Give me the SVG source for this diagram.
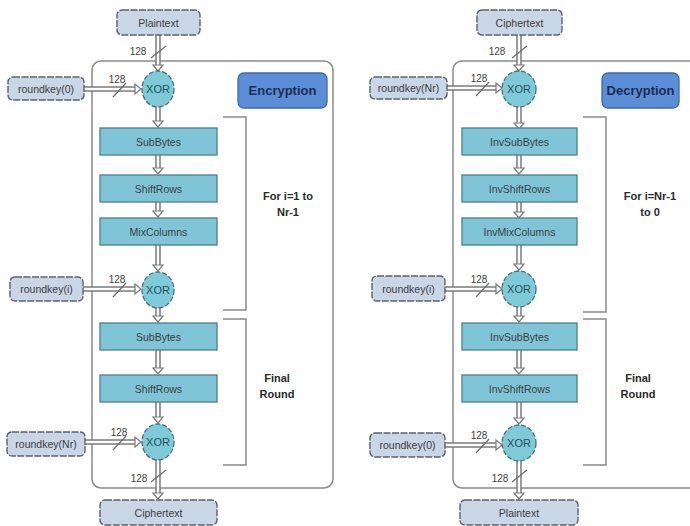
<svg xmlns="http://www.w3.org/2000/svg" width="690" height="526" viewBox="0 0 690 526">
<style>
.bg{fill:#ffffff}
.io{fill:#c9d6e6;stroke:#5b6170;stroke-width:1.4;stroke-dasharray:7 1.5}
.op{fill:#7fc5d7;stroke:#4d7e8c;stroke-width:1.3}
.xor{fill:#7ecad8;stroke:#4a6f7c;stroke-width:1.3;stroke-dasharray:5 2}
.mode{fill:#5b8ed6;stroke:#3c69ad;stroke-width:1.3}
.cont{fill:none;stroke:#8a8a8a;stroke-width:1.5}
.brk{fill:none;stroke:#8a8a8a;stroke-width:1.5}
.t{font-family:"Liberation Sans",Arial,sans-serif;font-size:10.5px;fill:#3d3d3d;text-anchor:middle;dominant-baseline:central}
.tx{font-family:"Liberation Sans",Arial,sans-serif;font-size:11px;fill:#284e5c;text-anchor:middle;dominant-baseline:central}
.tm{font-family:"Liberation Sans",Arial,sans-serif;font-size:13px;font-weight:bold;fill:#1b2c55;text-anchor:middle;dominant-baseline:central}
.tb{font-family:"Liberation Sans",Arial,sans-serif;font-size:11px;font-weight:bold;fill:#2a2a2a;text-anchor:middle;dominant-baseline:central}
.tn{font-family:"Liberation Sans",Arial,sans-serif;font-size:10px;fill:#3d3d3d;text-anchor:middle;dominant-baseline:central}
.ao{stroke:#7a7a7a;stroke-width:5.5;fill:none}
.ai{stroke:#ffffff;stroke-width:2.5;fill:none}
.ah{fill:#ffffff;stroke:#7a7a7a;stroke-width:1.2}
.sl{stroke:#6a6a6a;stroke-width:1.2}
</style>
<rect class="bg" x="0" y="0" width="690" height="526"/>

<!-- containers and brackets -->
<g id="enc-frame">
<rect class="cont" x="92" y="61" width="241" height="427" rx="9"/>
<path class="brk" d="M223,117 H246 V310 H223"/>
<path class="brk" d="M223,319 H246 V465 H223"/>
</g>
<g id="dec-frame">
<rect class="cont" x="453" y="61" width="250" height="427" rx="9"/>
<path class="brk" d="M583,117 H606 V312 H583"/>
<path class="brk" d="M583,319 H606 V465 H583"/>
</g>

<!-- connectors -->
<g id="connectors">
<!-- encryption vertical -->
<path class="ao" d="M158,35 V66"/><path class="ai" d="M158,35 V66"/><polygon class="ah" points="153,65 163,65 158,71"/>
<path class="ao" d="M158,107 V122"/><path class="ai" d="M158,107 V122"/><polygon class="ah" points="153,121 163,121 158,127"/>
<path class="ao" d="M158,155 V169"/><path class="ai" d="M158,155 V169"/><polygon class="ah" points="153,168 163,168 158,174"/>
<path class="ao" d="M158,202 V212"/><path class="ai" d="M158,202 V212"/><polygon class="ah" points="153,211 163,211 158,217"/>
<path class="ao" d="M158,245 V266"/><path class="ai" d="M158,245 V266"/><polygon class="ah" points="153,265 163,265 158,271"/>
<path class="ao" d="M158,308 V317"/><path class="ai" d="M158,308 V317"/><polygon class="ah" points="153,316 163,316 158,322"/>
<path class="ao" d="M158,350 V369"/><path class="ai" d="M158,350 V369"/><polygon class="ah" points="153,368 163,368 158,374"/>
<path class="ao" d="M158,402 V418"/><path class="ai" d="M158,402 V418"/><polygon class="ah" points="153,417 163,417 158,423"/>
<path class="ao" d="M158,460 V494"/><path class="ai" d="M158,460 V494"/><polygon class="ah" points="153,493 163,493 158,499"/>
<!-- encryption horizontal -->
<path class="ao" d="M84,89 H136"/><path class="ai" d="M84,89 H136"/><polygon class="ah" points="135,84 135,94 141,89"/>
<path class="ao" d="M83,289 H136"/><path class="ai" d="M83,289 H136"/><polygon class="ah" points="135,284 135,294 141,289"/>
<path class="ao" d="M85,442 H136"/><path class="ai" d="M85,442 H136"/><polygon class="ah" points="135,437 135,447 141,442"/>
<!-- decryption vertical -->
<path class="ao" d="M519,35 V66"/><path class="ai" d="M519,35 V66"/><polygon class="ah" points="514,65 524,65 519,71"/>
<path class="ao" d="M519,107 V124"/><path class="ai" d="M519,107 V124"/><polygon class="ah" points="514,123 524,123 519,129"/>
<path class="ao" d="M519,155 V169"/><path class="ai" d="M519,155 V169"/><polygon class="ah" points="514,168 524,168 519,174"/>
<path class="ao" d="M519,202 V213"/><path class="ai" d="M519,202 V213"/><polygon class="ah" points="514,212 524,212 519,218"/>
<path class="ao" d="M519,245 V265"/><path class="ai" d="M519,245 V265"/><polygon class="ah" points="514,264 524,264 519,270"/>
<path class="ao" d="M519,307 V317"/><path class="ai" d="M519,307 V317"/><polygon class="ah" points="514,316 524,316 519,322"/>
<path class="ao" d="M519,350 V369"/><path class="ai" d="M519,350 V369"/><polygon class="ah" points="514,368 524,368 519,374"/>
<path class="ao" d="M519,402 V419"/><path class="ai" d="M519,402 V419"/><polygon class="ah" points="514,418 524,418 519,424"/>
<path class="ao" d="M519,461 V494"/><path class="ai" d="M519,461 V494"/><polygon class="ah" points="514,493 524,493 519,499"/>
<!-- decryption horizontal -->
<path class="ao" d="M447,88 H497"/><path class="ai" d="M447,88 H497"/><polygon class="ah" points="496,83 496,93 502,88"/>
<path class="ao" d="M445,289 H497"/><path class="ai" d="M445,289 H497"/><polygon class="ah" points="496,284 496,294 502,289"/>
<path class="ao" d="M445,445 H497"/><path class="ai" d="M445,445 H497"/><polygon class="ah" points="496,440 496,450 502,445"/>
<!-- bus width marks -->
<line class="sl" x1="151" y1="58" x2="166" y2="46"/><text class="tn" x="138" y="51">128</text>
<line class="sl" x1="113" y1="97" x2="126" y2="83"/><text class="tn" x="117" y="79">128</text>
<line class="sl" x1="113" y1="297" x2="126" y2="283"/><text class="tn" x="117" y="279">128</text>
<line class="sl" x1="113" y1="450" x2="126" y2="436"/><text class="tn" x="119" y="432">128</text>
<line class="sl" x1="151" y1="482" x2="166" y2="470"/><text class="tn" x="139" y="478">128</text>
<line class="sl" x1="512" y1="58" x2="527" y2="46"/><text class="tn" x="497" y="51">128</text>
<line class="sl" x1="476" y1="96" x2="489" y2="82"/><text class="tn" x="479" y="78">128</text>
<line class="sl" x1="476" y1="297" x2="489" y2="283"/><text class="tn" x="479" y="279">128</text>
<line class="sl" x1="476" y1="453" x2="489" y2="439"/><text class="tn" x="479" y="435">128</text>
<line class="sl" x1="512" y1="482" x2="527" y2="470"/><text class="tn" x="500" y="478">128</text>
</g>

<!-- encryption nodes -->
<g id="enc-plaintext"><rect class="io" x="117" y="10" width="83" height="25" rx="5"/><text class="t" x="158.5" y="22.5">Plaintext</text></g>
<g id="enc-rk0"><rect class="io" x="8" y="77" width="76" height="23" rx="5"/><text class="t" x="46" y="88.5">roundkey(0)</text></g>
<g id="enc-xor1"><ellipse class="xor" cx="158" cy="89" rx="16" ry="18"/><text class="tx" x="158" y="89">XOR</text></g>
<g id="enc-label"><rect class="mode" x="238" y="73" width="89" height="35" rx="6"/><text class="tm" x="282.5" y="90.5">Encryption</text></g>
<g id="enc-sub1"><rect class="op" x="100" y="128" width="117" height="27"/><text class="t" x="158.5" y="141.5">SubBytes</text></g>
<g id="enc-shift1"><rect class="op" x="100" y="175" width="117" height="27"/><text class="t" x="158.5" y="188.5">ShiftRows</text></g>
<g id="enc-mix"><rect class="op" x="100" y="218" width="117" height="27"/><text class="t" x="158.5" y="231.5">MixColumns</text></g>
<g id="enc-loop"><text class="tb" x="288" y="196">For i=1 to</text><text class="tb" x="288" y="212">Nr-1</text></g>
<g id="enc-rki"><rect class="io" x="10" y="277" width="73" height="24" rx="5"/><text class="t" x="46.5" y="289">roundkey(i)</text></g>
<g id="enc-xor2"><ellipse class="xor" cx="158" cy="290" rx="16" ry="18"/><text class="tx" x="158" y="290">XOR</text></g>
<g id="enc-sub2"><rect class="op" x="100" y="323" width="117" height="27"/><text class="t" x="158.5" y="336.5">SubBytes</text></g>
<g id="enc-shift2"><rect class="op" x="100" y="375" width="117" height="27"/><text class="t" x="158.5" y="388.5">ShiftRows</text></g>
<g id="enc-final"><text class="tb" x="277" y="378">Final</text><text class="tb" x="277" y="394">Round</text></g>
<g id="enc-rknr"><rect class="io" x="7" y="432" width="78" height="24" rx="5"/><text class="t" x="46" y="444">roundkey(Nr)</text></g>
<g id="enc-xor3"><ellipse class="xor" cx="158" cy="442" rx="16" ry="18"/><text class="tx" x="158" y="442">XOR</text></g>
<g id="enc-ciphertext"><rect class="io" x="100" y="500" width="117" height="25" rx="5"/><text class="t" x="158.5" y="512.5">Ciphertext</text></g>

<!-- decryption nodes -->
<g id="dec-ciphertext"><rect class="io" x="477" y="10" width="85" height="25" rx="5"/><text class="t" x="519.5" y="22.5">Ciphertext</text></g>
<g id="dec-rknr"><rect class="io" x="370" y="77" width="77" height="22" rx="5"/><text class="t" x="408.5" y="88">roundkey(Nr)</text></g>
<g id="dec-xor1"><ellipse class="xor" cx="519" cy="89" rx="17" ry="18"/><text class="tx" x="519" y="89">XOR</text></g>
<g id="dec-label"><rect class="mode" x="602" y="73" width="77" height="35" rx="6"/><text class="tm" x="640.5" y="90.5">Decryption</text></g>
<g id="dec-sub1"><rect class="op" x="462" y="128" width="115" height="27"/><text class="t" x="519.5" y="141.5">InvSubBytes</text></g>
<g id="dec-shift1"><rect class="op" x="462" y="175" width="115" height="27"/><text class="t" x="519.5" y="188.5">InvShiftRows</text></g>
<g id="dec-mix"><rect class="op" x="462" y="218" width="115" height="27"/><text class="t" x="519.5" y="231.5">InvMixColumns</text></g>
<g id="dec-loop"><text class="tb" x="650" y="196">For i=Nr-1</text><text class="tb" x="650" y="212">to 0</text></g>
<g id="dec-rki"><rect class="io" x="372" y="276" width="73" height="25" rx="5"/><text class="t" x="408.5" y="288.5">roundkey(i)</text></g>
<g id="dec-xor2"><ellipse class="xor" cx="519" cy="289" rx="17" ry="18"/><text class="tx" x="519" y="289">XOR</text></g>
<g id="dec-sub2"><rect class="op" x="462" y="323" width="115" height="27"/><text class="t" x="519.5" y="336.5">InvSubBytes</text></g>
<g id="dec-shift2"><rect class="op" x="462" y="375" width="115" height="27"/><text class="t" x="519.5" y="388.5">InvShiftRows</text></g>
<g id="dec-final"><text class="tb" x="638" y="378">Final</text><text class="tb" x="638" y="394">Round</text></g>
<g id="dec-rk0"><rect class="io" x="370" y="433" width="75" height="24" rx="5"/><text class="t" x="407.5" y="445">roundkey(0)</text></g>
<g id="dec-xor3"><ellipse class="xor" cx="519" cy="443" rx="17" ry="18"/><text class="tx" x="519" y="443">XOR</text></g>
<g id="dec-plaintext"><rect class="io" x="460" y="500" width="118" height="25" rx="5"/><text class="t" x="519" y="512.5">Plaintext</text></g>
</svg>
